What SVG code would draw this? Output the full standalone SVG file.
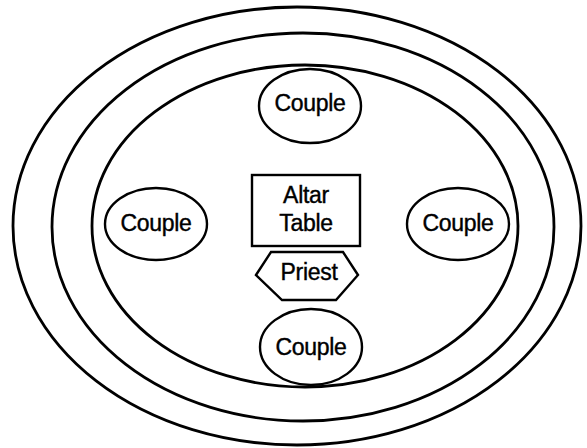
<svg xmlns="http://www.w3.org/2000/svg" width="587" height="448" viewBox="0 0 587 448">
<style>
.ring{fill:none;stroke:#000;stroke-width:2.8}
.shape{fill:#fff;stroke:#000;stroke-width:2.4}
.lbl{font-family:"Liberation Sans",Arial,sans-serif;font-size:23px;fill:#000;stroke:#000;stroke-width:0.4;text-anchor:middle;letter-spacing:-0.3px}
</style>
<rect width="587" height="448" fill="#fff"/>
<g id="rings">
<ellipse class="ring" cx="297" cy="226" rx="284" ry="219"/>
<ellipse class="ring" cx="303" cy="227" rx="251" ry="194"/>
<ellipse class="ring" cx="305" cy="226" rx="213" ry="161"/>
</g>
<g id="couple-top">
<ellipse class="shape" cx="310" cy="106" rx="51" ry="37"/>
<text class="lbl" x="310" y="111">Couple</text>
</g>
<g id="couple-left">
<ellipse class="shape" cx="156" cy="224" rx="51" ry="36"/>
<text class="lbl" x="156" y="231">Couple</text>
</g>
<g id="couple-right">
<ellipse class="shape" cx="458" cy="224" rx="51" ry="36"/>
<text class="lbl" x="458" y="231">Couple</text>
</g>
<g id="couple-bottom">
<ellipse class="shape" cx="311" cy="347" rx="51" ry="38"/>
<text class="lbl" x="311" y="355">Couple</text>
</g>
<g id="altar">
<rect class="shape" x="252" y="175" width="108" height="71"/>
<text class="lbl" x="306" y="203">Altar</text>
<text class="lbl" x="306" y="231">Table</text>
</g>
<g id="priest">
<polygon class="shape" points="256,275 271,252 343,252 358,275 336,300 282,300"/>
<text class="lbl" x="309" y="280">Priest</text>
</g>
<g id="connectors"></g>
</svg>
